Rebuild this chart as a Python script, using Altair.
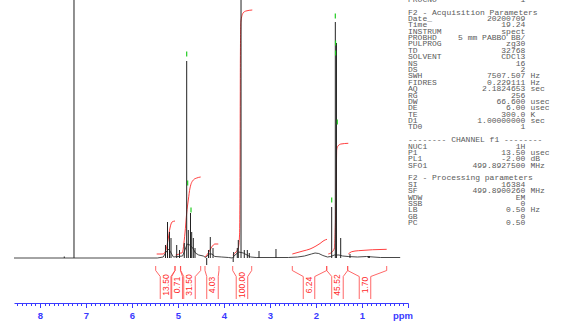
import altair as alt
import pandas as pd

# ---------------- spectrum (ppm, intensity above baseline) ----------------
peak_ppm = [7.472, 7.261, 5.272, 5.228, 5.185, 5.152, 5.028, 4.967, 4.863, 4.811,
            4.776, 4.728, 4.702, 4.667, 4.630, 4.376, 4.337, 4.298, 4.239, 3.800,
            3.790, 3.711, 3.689, 3.630, 3.559, 3.493, 3.450, 3.239, 2.870, 1.659,
            1.580, 1.555, 1.463, 1.261, 0.863, 0.840]
peak_int = [1.5, 330, 13, 36, 26, 20, 13, 8, 15, 197,
            28, 45, 26, 20, 10, -7, 8, 21, 10, -4,
            6, 10, 18, 330, 8, 8, 5, 7, 9, 51,
            236, 215, 20, 4, 2, 2]

base_ppm = [8.565, 5.45, 5.32, 5.26, 5.20, 5.15, 5.10, 5.00, 4.90, 4.85, 4.80, 4.74,
            4.68, 4.62, 4.55, 4.45, 4.40, 4.32, 4.26, 4.20, 4.05, 3.90, 3.82, 3.76,
            3.68, 3.58, 3.50, 3.42, 3.30, 3.00, 2.60, 2.40, 2.25, 2.10, 2.02, 1.94,
            1.85, 1.75, 1.68, 1.60, 1.50, 1.42, 1.30, 1.10, 0.90, 0.60, 0.17]
base_int = [0, 0, 1, 6, 9, 5, 1, 1.5, 2, 8, 14, 13,
            10, 5, 3, 2, 0.5, 4, 4, 1.5, 1, 0.5, 0, 3,
            6, 5, 3, 1, 0.5, 0.5, 0.5, 1, 2, 4, 5, 4.5,
            2.5, 1, 1.5, 3, 3, 2, 1.5, 1, 1.5, 0.5, 0.5]

# peak-pick markers (green)
mark_ppm = [4.811, 4.790, 4.717, 1.659, 1.580, 1.575, 1.575, 1.537]
mark_int = [204, 75, 48, 58, 242, 215, 205, 136]

# ---------------- integrals ----------------
int_labels = ["13.50", "0.71", "31.50", "4.03", "100.00", "6.24", "45.52", "1.70"]
int_left = [5.485, 5.065, 4.942, 4.413, 3.811, 2.515, 1.767, 1.311]
int_right = [5.065, 4.946, 4.507, 4.109, 3.398, 1.767, 1.311, 0.463]
int_center = [5.261, 5.028, 4.750, 4.250, 3.609, 2.152, 1.533, 0.935]

curve_ppm = [
    [5.463, 5.326, 5.261, 5.217, 5.174, 5.130, 5.065],
    [5.050, 5.000, 4.940],
    [4.942, 4.913, 4.848, 4.811, 4.776, 4.739, 4.667, 4.593, 4.507],
    [4.413, 4.341, 4.267, 4.196, 4.124],
    [3.811, 3.739, 3.690, 3.662, 3.650, 3.644, 3.634, 3.585, 3.522, 3.385],
    [2.515, 2.283, 2.130, 2.000, 1.913, 1.826, 1.761],
    [1.733, 1.652, 1.598, 1.576, 1.559, 1.550, 1.522, 1.457, 1.298],
    [1.298, 1.224, 1.080, 0.463],
]
curve_int = [
    [4, 4, 8, 18, 30, 36, 37],
    [3, 3.5, 5],
    [5, 5, 25, 45, 58, 70, 78, 80, 81],
    [1, 5, 11, 14, 14],
    [3, 6, 10, 23, 98, 198, 236, 245, 247, 248],
    [4, 7, 9, 12, 14.5, 17.5, 18.7],
    [4, 6, 10, 38, 78, 108, 112, 114, 114.7],
    [4, 6.3, 7.3, 8.7],
]

# ---------------- parameter listing ----------------
param_labels = ["PROCNO", "", "F2 - Acquisition Parameters", "Date_", "Time", "INSTRUM",
                "PROBHD", "PULPROG", "TD", "SOLVENT", "NS", "DS", "SWH", "FIDRES", "AQ",
                "RG", "DW", "DE", "TE", "D1", "TD0", "", "-------- CHANNEL f1 --------",
                "NUC1", "P1", "PL1", "SFO1", "", "F2 - Processing parameters", "SI", "SF",
                "WDW", "SSB", "LB", "GB", "PC"]
param_values = ["1", "", "", "20200709", "19.24", "spect", "5 mm PABBO BB/", "zg30",
                "32768", "CDCl3", "16", "2", "7507.507", "0.229111", "2.1824653", "256",
                "66.600", "6.00", "300.0", "1.00000000", "1", "", "", "1H", "13.50",
                "-2.00", "499.8927500", "", "", "16384", "499.8900260", "EM", "0",
                "0.50", "0", "0.50"]
param_units = ["", "", "", "", "", "", "", "", "", "", "", "", "Hz", "Hz", "sec", "",
               "usec", "usec", "K", "sec", "", "", "", "", "usec", "dB", "MHz", "", "",
               "", "MHz", "", "", "Hz", "", ""]

# ---------------- build tables ----------------
BASE_PX = 258.0
df_base = pd.DataFrame({"ppm": base_ppm, "I": base_int})
df_peaks = pd.DataFrame({"ppm": peak_ppm, "I": peak_int, "I0": 0.0})
df_marks = pd.DataFrame({"ppm": mark_ppm, "y1": [v + 2.5 for v in mark_int],
                         "y2": [v - 2.5 for v in mark_int]})

rows = []
for r, (ps, vs) in enumerate(zip(curve_ppm, curve_int)):
    for k, (p, v) in enumerate(zip(ps, vs)):
        rows.append({"ppm": p, "I": v, "region": r, "k": k})
df_curves = pd.DataFrame(rows)

H = 0.125
brows = []
for r, (L, R, c) in enumerate(zip(int_left, int_right, int_center)):
    for side, top, inner in (("L", L, c + H), ("R", R, c - H)):
        seg = f"{r}{side}"
        for k, (p, v) in enumerate([(top, -8), (top, -12.5), (inner, -18.5), (inner, -41)]):
            brows.append({"ppm": p, "I": v, "seg": seg, "k": k})
df_br = pd.DataFrame(brows)
df_lab = pd.DataFrame({"ppm": int_center, "I": -27.0, "label": int_labels})

LINE = 6.38
df_par = pd.DataFrame({
    "label": param_labels, "value": param_values, "unit": param_units,
    "I": [BASE_PX - (-0.2 + LINE * i) for i in range(len(param_labels))],
})

xscale = alt.Scale(domain=[0, 8.565], reverse=True, nice=False, zero=False)
yscale = alt.Scale(domain=[-45, 258], nice=False, zero=False)
BLUE = "#3a3aff"
RED = "#ff2a2a"
TXT = "#5a5a5a"

is_int = "abs(datum.value - round(datum.value)) < 0.001"
tick_vals = [round(i * 0.1, 1) for i in range(0, 86)]
x_axis = alt.Axis(
    values=tick_vals,
    labelExpr=f"({is_int}) && datum.value > 0.5 ? format(datum.value, 'd') : ''",
    tickSize={"condition": {"test": is_int, "value": 4.5}, "value": 2.5},
    domainColor=BLUE, tickColor=BLUE, labelColor=BLUE,
    labelFont="Liberation Sans", labelFontWeight="bold", labelFontSize=9.5,
    labelPadding=3, labelOverlap=False, labelFlush=False, grid=False, title=None,
    domainWidth=1, tickWidth=1,
)


def X():
    return alt.X("ppm:Q", scale=xscale, axis=x_axis)


def Y(field="I"):
    return alt.Y(f"{field}:Q", scale=yscale, axis=None)


baseline = alt.Chart(df_base).mark_line(color="#333333", strokeWidth=0.9).encode(
    x=X(), y=Y())

peaks = alt.Chart(df_peaks).mark_rule(color="#222222", strokeWidth=1, clip=True).encode(
    x=X(), y=Y("I0"), y2="I:Q")

marks = alt.Chart(df_marks).mark_rule(color="#22cc22", strokeWidth=1.2).encode(
    x=X(), y=Y("y1"), y2="y2:Q")

curves = alt.Chart(df_curves).mark_line(color=RED, strokeWidth=0.9, clip=True,
                                        interpolate="monotone").encode(
    x=X(), y=Y(), detail="region:N", order="k:Q")

brackets = alt.Chart(df_br).mark_line(color="#ff4040", strokeWidth=0.8).encode(
    x=X(), y=Y(), detail="seg:N", order="k:Q")

labels = alt.Chart(df_lab).mark_text(color=RED, angle=270, font="Liberation Sans",
                                     fontSize=8.5, align="center", baseline="middle").encode(
    x=X(), y=Y(), text="label:N")

PX0 = 394
FS = 8
par_lab = alt.Chart(df_par).mark_text(font="Liberation Mono", fontSize=FS, color=TXT,
                                      align="left", baseline="middle").encode(
    x=alt.value(PX0), y=Y(), text="label:N")
par_val = alt.Chart(df_par).mark_text(font="Liberation Mono", fontSize=FS, color=TXT,
                                      align="right", baseline="middle").encode(
    x=alt.value(PX0 + 23 * 5.1), y=Y(), text="value:N")
par_unit = alt.Chart(df_par).mark_text(font="Liberation Mono", fontSize=FS, color=TXT,
                                       align="left", baseline="middle").encode(
    x=alt.value(PX0 + 24 * 5.1), y=Y(), text="unit:N")

ppm_title = alt.Chart(pd.DataFrame({"t": ["ppm"]})).mark_text(
    color=BLUE, font="Liberation Sans", fontWeight="bold", fontSize=9.5,
    align="center", baseline="alphabetic").encode(
    x=alt.value(389), y=alt.value(318.5), text="t:N")

chart = alt.layer(
    baseline, curves, peaks, brackets, labels, marks, par_lab, par_val, par_unit, ppm_title
).properties(
    width=394, height=303,
    padding={"left": 14, "top": 0, "right": 153, "bottom": 25},
    autosize=alt.AutoSizeParams(type="none"),
    background="white",
).configure_view(stroke=None)

chart.save("out.html", embed_options={"renderer": "svg", "actions": False})
